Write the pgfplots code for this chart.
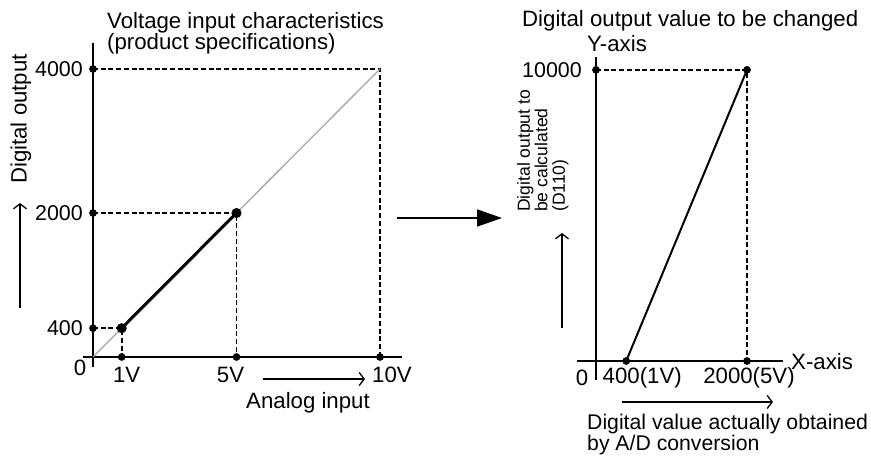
\documentclass[border=0pt]{standalone}
\usepackage{fontspec}
\setmainfont{Liberation Sans}
\usepackage{pgfplots}
\pgfplotsset{compat=1.18}
\usetikzlibrary{arrows.meta}
\newcommand\fb{\fontsize{22.3}{20}\selectfont}
\newcommand\ft{\fontsize{21.5}{20}\selectfont}
\newcommand\fs{\fontsize{17.6}{17.5}\selectfont}
\pgfplotsset{
  guide/.style={black,line width=1.6bp,dash pattern=on 5bp off 2.7bp},
  dot/.style={only marks,mark=*,mark size=3.6bp,black,mark options={fill=black}},
}
\begin{document}
\begin{tikzpicture}[x=1bp,y=1bp,
  lbl/.style={inner sep=0pt,font=\fb},
  tl/.style={inner sep=0pt,font=\ft},
  thinarrow/.style={line width=1.3bp,-{Straight Barb[length=5bp,width=13bp]}}]
\useasboundingbox (0,0) rectangle (871,456);

% left: voltage input characteristics
\begin{axis}[at={(93bp,99bp)},anchor=origin,x=28.7bp,y=0.072bp,
  xmin=-0.35,xmax=10.77,ymin=-140,ymax=4360,
  axis lines*=middle,axis line style={line width=1.7bp},
  xtick=\empty,ytick=\empty,clip=false]
\addplot[guide] coordinates {(0,4000) (10,4000) (10,0)};
\addplot[guide] coordinates {(0,2000) (5,2000) (5,0)};
\addplot[guide] coordinates {(0,400) (1,400) (1,0)};
\addplot[gray!70,line width=1.3bp] coordinates {(0,0) (10,4000)};
\addplot[black,line width=3bp] coordinates {(1,400) (5,2000)};
\addplot[dot] coordinates {(0,4000) (0,2000) (0,400) (1,0) (5,0) (10,0)};
\addplot[dot,mark size=4.8bp] coordinates {(1,400) (5,2000)};
\node[tl,anchor=east,xshift=-10bp] at (axis cs:0,4000) {4000};
\node[tl,anchor=east,xshift=-10bp] at (axis cs:0,2000) {2000};
\node[tl,anchor=east,xshift=-10bp] at (axis cs:0,400) {400};
\node[lbl,xshift=-13bp,yshift=-11bp] at (axis cs:0,0) {0};
\node[lbl,xshift=5bp,yshift=-18bp] at (axis cs:1,0) {1V};
\node[lbl,xshift=-6bp,yshift=-18bp] at (axis cs:5,0) {5V};
\node[lbl,xshift=12bp,yshift=-18bp] at (axis cs:10,0) {10V};
\end{axis}
\node[lbl,align=left,anchor=north west] at (107,444)
  {Voltage input characteristics\\(product specifications)};
\node[lbl,rotate=90] at (21,337) {Digital output};
\draw[thinarrow] (20,148) -- (20,253);
\draw[thinarrow] (263,77) -- (365,77);
\node[lbl] at (308,53) {Analog input};

% middle arrow
\draw[line width=1.7bp,-{Triangle[length=25bp,width=17bp]}] (397,238) -- (502,238);

% right: digital output value to be changed
\begin{axis}[at={(596bp,95bp)},anchor=origin,x=0.0755bp,y=0.02911bp,
  xmin=-250,xmax=2480,ymin=-650,ymax=10450,
  axis lines*=middle,axis line style={line width=1.7bp},
  xtick=\empty,ytick=\empty,clip=false]
\addplot[guide] coordinates {(0,10000) (2000,10000) (2000,0)};
\addplot[black,line width=2bp] coordinates {(400,0) (2000,10000)};
\addplot[dot] coordinates {(0,10000) (2000,10000) (400,0) (2000,0)};
\node[tl,anchor=east,xshift=-14bp] at (axis cs:0,10000) {10000};
\node[lbl,xshift=-14bp,yshift=-17bp] at (axis cs:0,0) {0};
\node[lbl,xshift=16bp,yshift=-17bp] at (axis cs:400,0) {400(1V)};
\node[lbl,xshift=2bp,yshift=-17bp] at (axis cs:2000,0) {2000(5V)};
\end{axis}
\node[lbl,anchor=base west] at (522,429) {Digital output value to be changed};
\node[lbl,anchor=base] at (617,404) {Y-axis};
\node[lbl,anchor=west] at (791,94) {X-axis};
\node[lbl,font=\fs,rotate=90,align=left,anchor=north west] at (517,244)
  {Digital output to\\be calculated\\(D110)};
\draw[thinarrow] (562,128) -- (562,223);
\draw[thinarrow] (622,54) -- (773,54);
\node[tl,font=\fontsize{21.3}{18.5}\selectfont,align=left,anchor=north west] at (587,42)
  {Digital value actually obtained\\by A/D conversion};
\end{tikzpicture}
\end{document}
